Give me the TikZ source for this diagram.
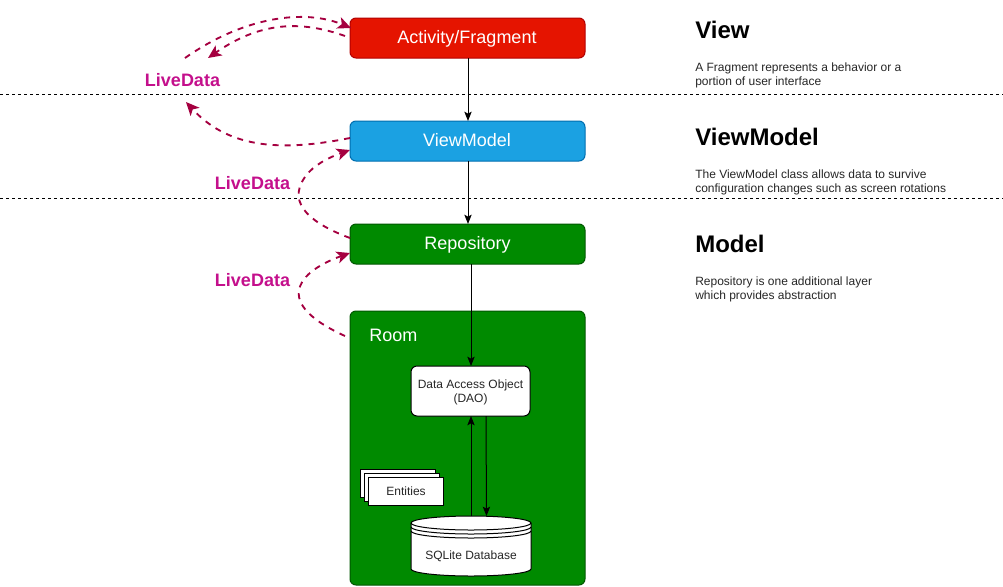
\documentclass[tikz,border=0pt]{standalone}
\usepackage{fontspec}
\setmainfont{Liberation Sans}
\usetikzlibrary{positioning,arrows,arrows.meta,shapes}
\definecolor{ldred}{HTML}{A50040}
\definecolor{ldtext}{HTML}{C4108C}
\begin{document}
\begin{tikzpicture}[
	x=0.75pt,y=-0.75pt,
	ar/.style={-{Stealth[length=7pt,width=5.5pt,inset=1.5pt]},line width=0.75pt,black},
	ld/.style={-{Stealth[length=10pt,width=9pt,inset=2.5pt]},ldred,line width=1.4pt,dash pattern=on 4.5pt off 4.5pt},
	sep/.style={black,line width=0.75pt,dash pattern=on 2.25pt off 2.25pt},
	layer/.style={
	  draw,
	  rounded corners=4.5pt,
	  line width=0.75pt,
	  minimum width=176.25pt,
	  minimum height=30pt
	  },
	layertext/.style={text=white,inner sep=0pt,font=\fontsize{13.5}{16}\selectfont},
	small/.style={
	  draw=black,
	  fill=white,
	  line width=0.75pt,
	  align=center,
	  text=black!85,
	  font=\fontsize{9}{10.5}\selectfont
	  },
	smalltext/.style={inner sep=0pt,align=center,text=black!85,font=\fontsize{9}{10.5}\selectfont},
	livetext/.style={text=ldtext,font=\fontsize{13.5}{16}\selectfont\bfseries},
	title/.style={anchor=west,inner sep=0pt,font=\fontsize{18}{21}\selectfont\bfseries},
	descr/.style={anchor=north west,inner sep=0pt,align=left,text=black!85,font=\fontsize{9}{10.5}\selectfont}
	]
		\useasboundingbox (0,0) rectangle (1003,586);

		\coordinate (sep1a) at (0,94);
		\coordinate (sep1b) at (1003,94);
		\coordinate (sep2a) at (0,198);
		\coordinate (sep2b) at (1003,198);
		\draw[sep] (sep1a) -- (sep1b);
		\draw[sep] (sep2a) -- (sep2b);

		\node[layer,fill={rgb,255:red,229;green,20;blue,0},draw={rgb,255:red,178;green,0;blue,0}] (act) at (467.5,38) {};
		\node[layertext] (actlabel) at (467,38.5) {Activity/Fragment};
		\node[layer,fill={rgb,255:red,27;green,161;blue,226},draw={rgb,255:red,0;green,110;blue,175}] (vm) at (467.5,141) {};
		\node[layertext] (vmlabel) at (467,140) {ViewModel};
		\node[layer,fill={rgb,255:red,0;green,138;blue,0},draw={rgb,255:red,0;green,87;blue,0}] (repo) at (467.5,244) {};
		\node[layertext] (repolabel) at (467.5,244.5) {Repository};
		\node[layer,fill={rgb,255:red,0;green,138;blue,0},draw={rgb,255:red,0;green,87;blue,0},minimum height=205.5pt] (room) at (467.5,448) {};
		\node[layertext,anchor=west] (roomlabel) at (369,335) {Room};

		\node[small,rounded corners=4.5pt,minimum width=89.25pt,minimum height=37.5pt] (dao) at (470.5,391) {};
		\node[smalltext] (daolabel) at (470.5,392) {Data Access Object\\(DAO)};

		% entities stack
		\node[small,minimum width=56.25pt,minimum height=21pt] (ent3) at (398,483) {};
		\node[small,minimum width=56.25pt,minimum height=21pt] (ent2) at (402,487) {};
		\node[small,minimum width=56.25pt,minimum height=21pt] (ent1) at (406,491) {Entities};

		% database
		\draw[fill=white,line width=0.75pt]
			(411,523) arc[start angle=180,end angle=360,x radius=60,y radius=7]
			-- (531,569) arc[start angle=0,end angle=180,x radius=60,y radius=7] -- cycle;
		\draw[line width=0.75pt] (411,523) arc[start angle=180,end angle=0,x radius=60,y radius=7];
		\draw[line width=0.75pt] (411,527) arc[start angle=180,end angle=0,x radius=60,y radius=7];
		\draw[line width=0.75pt] (411,531) arc[start angle=180,end angle=0,x radius=60,y radius=7];
		\node[smalltext] (db) at (471,556) {SQLite Database};

		\coordinate (actout) at (468,58);
		\coordinate (vmin) at (468,121);
		\coordinate (vmout) at (468,161);
		\coordinate (repoin) at (468,224);
		\coordinate (repoout) at (471,264);
		\coordinate (daoin) at (471,366);
		\coordinate (daoup) at (471,416);
		\coordinate (dbup) at (471,516);
		\coordinate (daodown) at (486,416);
		\coordinate (dbdown) at (486.5,516);

		\draw[ar] (actout) -- (vmin);
		\draw[ar] (vmout) -- (repoin);
		\draw[ar] (repoout) -- (daoin);
		\draw[ar] (dbup) -- (daoup);
		\draw[ar] (daodown) -- (dbdown);

		\node[livetext] (live1) at (182.5,80) {LiveData};
		\node[livetext] (live2) at (252.5,183) {LiveData};
		\node[livetext] (live3) at (252.5,280) {LiveData};

		\coordinate (l1a) at (185,58);
		\coordinate (l1b) at (351,28);
		\coordinate (l2a) at (345,36);
		\coordinate (l2b) at (208,58);
		\coordinate (l3a) at (350,138);
		\coordinate (l3b) at (186,102);
		\coordinate (l4a) at (350,238);
		\coordinate (l4b) at (350,150);
		\coordinate (l5a) at (345,336);
		\coordinate (l5b) at (350,253);

		\draw[ld] (l1a) .. controls (245,16) and (305,9) .. (l1b);
		\draw[ld] (l2a) .. controls (300,20) and (260,22) .. (l2b);
		\draw[ld] (l3a) .. controls (285,151) and (230,150) .. (l3b);
		\draw[ld] (l4a) .. controls (315,225) and (285,205) .. (305,177) .. controls (313,165) and (330,157) .. (l4b);
		\draw[ld] (l5a) .. controls (310,320) and (287,300) .. (305,278) .. controls (313,268) and (330,260) .. (l5b);

		\node[title] (tview) at (695,30) {View};
		\node[title] (tvm) at (695,137) {ViewModel};
		\node[title] (tmodel) at (695,244) {Model};
		\node[descr] (dview) at (695,62.5) {A Fragment represents a behavior or a\\portion of user interface};
		\node[descr] (dvm) at (695,169.5) {The ViewModel class allows data to survive\\configuration changes such as screen rotations};
		\node[descr] (dmodel) at (695,276.5) {Repository is one additional layer\\which provides abstraction};
	\end{tikzpicture}
\end{document}
